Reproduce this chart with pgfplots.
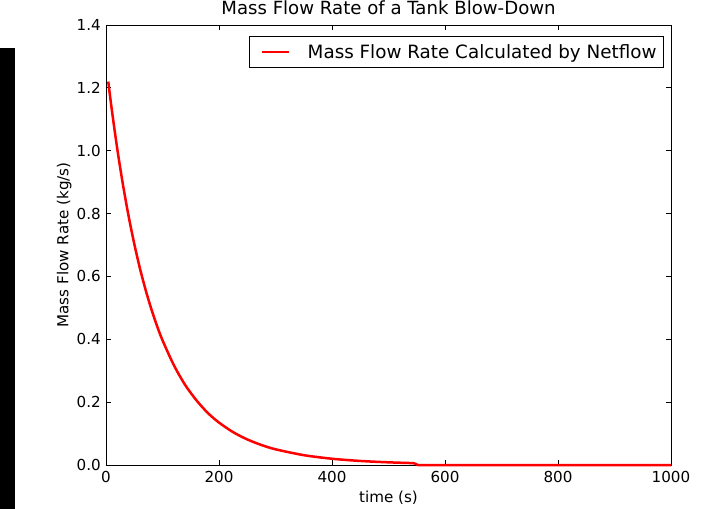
\documentclass[border=0pt]{standalone}
\usepackage{pgfplots}
\pgfplotsset{compat=1.18}
\usepackage{fontspec}
\setmainfont{DejaVu Sans}
\begin{document}
\begin{tikzpicture}
\path[use as bounding box] (-106bp,-44bp) rectangle (596bp,465bp);
\fill[black] (-106bp,-44bp) rectangle (-91.3bp,416.7bp);
\begin{axis}[
  scale only axis,
  width=565bp, height=440bp,
  at={(0,0)}, anchor=south west,
  xmin=0, xmax=1000, ymin=0, ymax=1.4,
  xtick={0,200,400,600,800,1000},
  ytick={0,0.2,0.4,0.6,0.8,1.0,1.2,1.4},
  minor tick num=0,
  tick align=inside,
  major tick length=5bp,
  every tick/.style={black, line width=0.8bp},
  axis line style={black, line width=0.9bp},
  /pgf/number format/assume math mode=true,
  tick label style={font=\fontsize{15.2}{18}\selectfont},
  xticklabel style={/pgf/number format/1000 sep={}, inner sep=0pt, anchor=north, yshift=-6.5bp},
  yticklabel style={/pgf/number format/.cd, fixed, fixed zerofill, precision=1, /tikz/.cd, inner sep=0pt, anchor=east, xshift=-5bp},
  title={Mass Flow Rate of a Tank Blow-Down},
  title style={font=\fontsize{18.2}{22}\selectfont, at={(axis description cs:0.5,1.0098)}, anchor=base, inner sep=0pt},
  xlabel={time (s)},
  xlabel style={font=\fontsize{15.2}{18}\selectfont, at={(axis description cs:0.5,-0.0848)}, anchor=base, inner sep=0pt},
  ylabel={Mass Flow Rate (kg/s)},
  ylabel style={font=\fontsize{15.2}{18}\selectfont, at={(axis description cs:-0.0664,0.5)}, anchor=base, inner sep=0pt},
  clip=false,
  legend style={at={(axis description cs:0.9876,0.9757)}, anchor=north east,
    draw=black, line width=0.9bp, inner xsep=7bp, inner ysep=8bp,
    font=\fontsize{18.4}{22}\selectfont,
    nodes={inner sep=0pt},
    /tikz/every even column/.style={column sep=0bp},
    /tikz/every odd column/.style={column sep=17.2bp}},
  legend image code/.code={%
    \path[draw=none, fill=none] (0bp,-6bp) rectangle (33bp,6bp);
    \draw[#1] (5.4bp,0bp) -- (33bp,0bp);},
]
\addplot[red, line width=2.5bp, smooth, tension=0.5] coordinates {
(4,1.220) (10,1.134) (20,1.005) (30,0.892) (40,0.792) (50,0.704) (60,0.626)
(70,0.558) (80,0.4975) (90,0.444) (100,0.397) (120,0.318)
(140,0.255) (160,0.206) (180,0.166) (200,0.135) (225,0.1045) (250,0.0814)
(275,0.0637) (300,0.0500) (350,0.0313) (400,0.0199) (450,0.0129) (500,0.0085)
(545,0.0059)
};
\addlegendentry{Mass Flow Rate Calculated by Netflow}
\addplot[red, line width=2.5bp, forget plot] coordinates {(545,0.0059) (552,0.000) (1000,0.000)};
\end{axis}
\end{tikzpicture}
\end{document}
